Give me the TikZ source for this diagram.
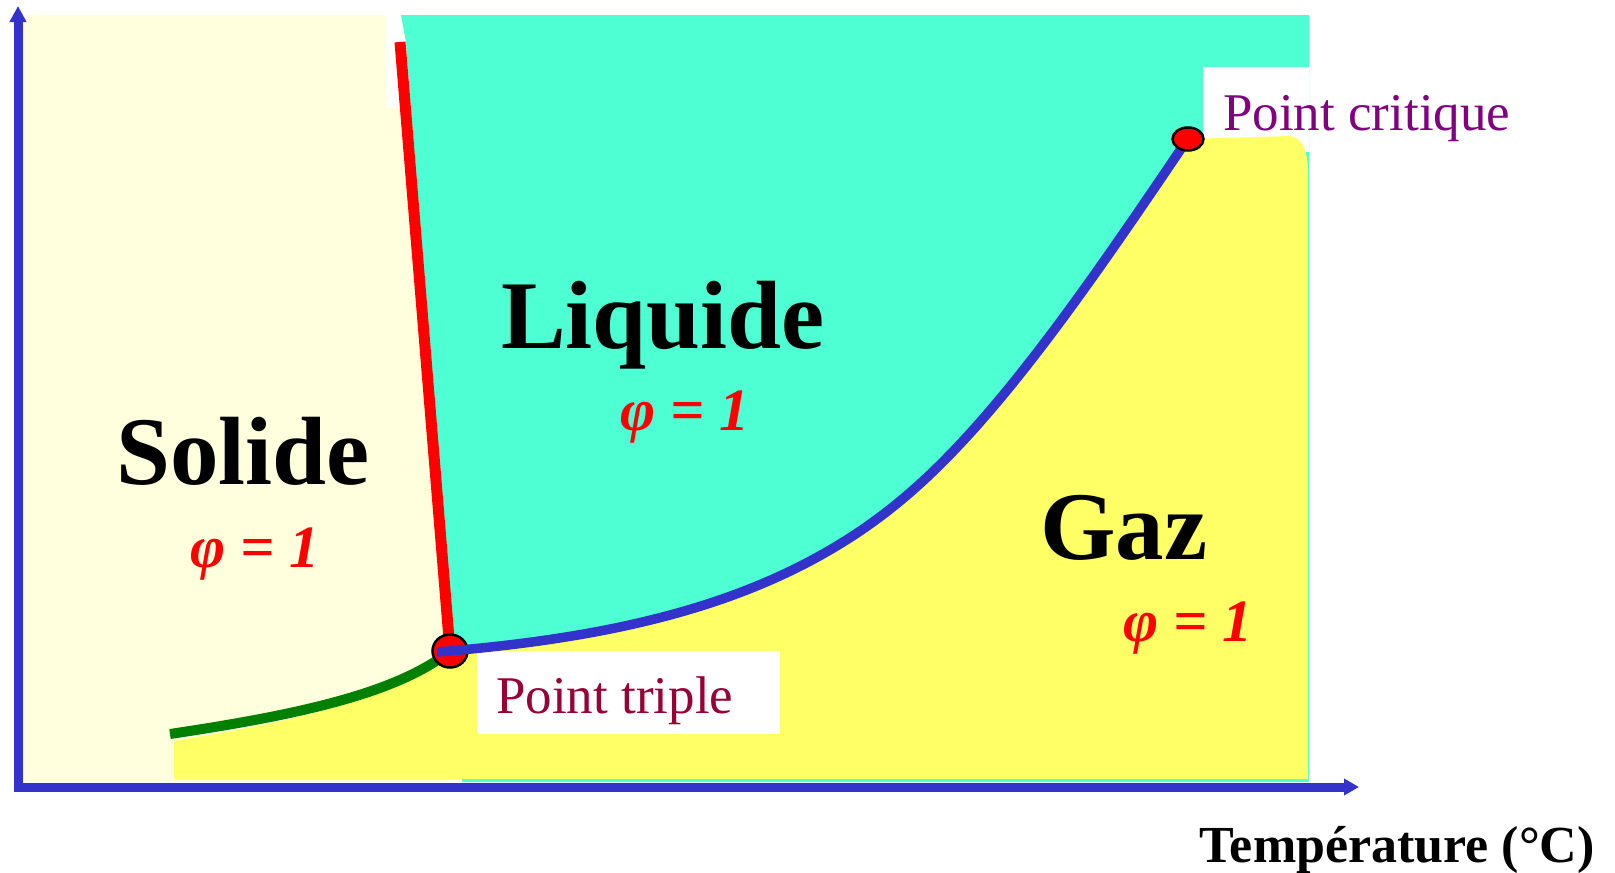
\documentclass[tikz,border=0pt]{standalone}
\usepackage{fontspec}
\setmainfont{Liberation Serif}
\usetikzlibrary{arrows.meta,shapes.geometric}
\definecolor{axisblue}{HTML}{3333CC}
\definecolor{solidbg}{HTML}{FFFFDD}
\definecolor{liqbg}{HTML}{4DFFD2}
\definecolor{gasbg}{HTML}{FFFF66}
\definecolor{critcol}{HTML}{800080}
\definecolor{tripcol}{HTML}{990033}
\definecolor{subgreen}{HTML}{008000}
\begin{document}
\begin{tikzpicture}[x=1pt,y=-1pt,
  phase/.style={font=\fontsize{97}{100}\selectfont\bfseries, inner sep=0pt, anchor=base},
  phival/.style={font=\fontsize{60}{64}\selectfont\bfseries\itshape, text=red, inner sep=0pt, anchor=base},
  lbl/.style={font=\fontsize{53}{58}\selectfont, inner sep=0pt, anchor=base west},
  dot/.style={ellipse, draw=black, line width=2.5pt, fill=red, inner sep=0pt},
  axisline/.style={draw=axisblue, line width=9pt}]
\useasboundingbox (0,0) rectangle (1615,873);
% key points
\coordinate (T) at (450,651);
\coordinate (Tb) at (437,652);
\coordinate (M) at (913,490);
\coordinate (C) at (1188,139);
\coordinate (Cb) at (1185,143);
\coordinate (Rtop) at (400,42);
\coordinate (G0) at (170,734);
\coordinate (O) at (18,787);
\coordinate (Ytop) at (18,6);
\coordinate (Xend) at (1359,787);
% regions
\fill[solidbg] (23,15) -- (386,15) -- (386,108) -- (399,108) -- (450,651) -- (450,781) -- (23,781) -- cycle;
\fill[liqbg] (401,15) -- (1309,15) -- (1309,782) -- (462,782) -- (450,651) -- (406,42) -- cycle;
\fill[white] (1203,67) rectangle (1309,152);
\fill[gasbg] (174,741) .. controls (300,720) and (398,699) .. (T)
  -- (Tb) .. controls (637,636) and (793,596) .. (M) .. controls (1003,411) and (1095,276) .. (Cb)
  -- (C) -- (1288,136) to[out=0,in=90] (1308,172) -- (1308,779) -- (174,779) -- cycle;
\fill[white] (477,651) rectangle (780,734);
% axes
\draw[axisline, {Triangle[length=16pt,width=16pt]}-{Triangle[length=15pt,width=16pt]}] (Ytop) -- (O) -- (Xend);
% phase boundaries
\draw[red, line width=11pt] (Rtop) -- (T);
\draw[subgreen, line width=10pt] (G0) .. controls (290,716) and (395,695) .. (T);
\node[dot, minimum width=35pt, minimum height=33pt] (tp) at (T) {};
\draw[axisblue, line width=9.5pt] (Tb) .. controls (637,636) and (793,596) .. (M) .. controls (1003,411) and (1095,276) .. (Cb);
\node[dot, minimum width=31pt, minimum height=23pt] (cp) at (C) {};
% labels
\node[phase] (solide) at (243,484) {Solide};
\node[phase] (liquide) at (663,348) {Liquide};
\node[phase] (gaz) at (1124,559) {Gaz};
\node[phival] (phis) at (255,567) {φ = 1};
\node[phival] (phil) at (685,430) {φ = 1};
\node[phival] (phig) at (1188,641) {φ = 1};
\node[lbl, text=critcol] (lcrit) at (1223,130) {Point critique};
\node[lbl, text=tripcol] (ltrip) at (496,713) {Point triple};
\node[font=\fontsize{52}{56}\selectfont\bfseries, inner sep=0pt, anchor=base east] (temp) at (1595,862) {Température (°C)};
\end{tikzpicture}
\end{document}
